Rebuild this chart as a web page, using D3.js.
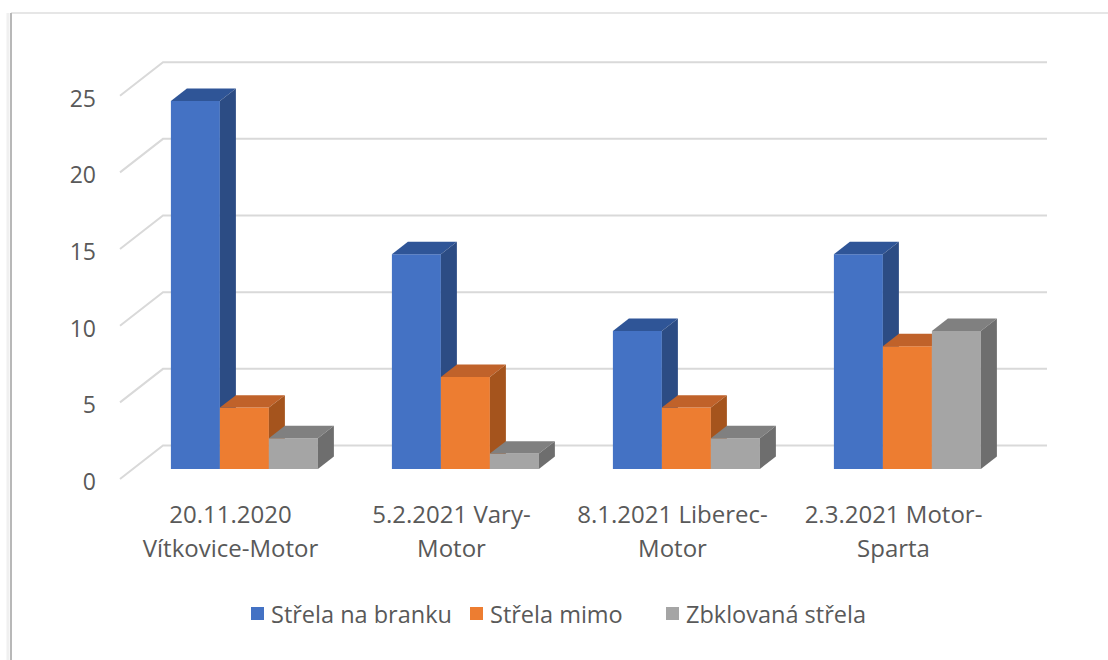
<!DOCTYPE html>
<html>
<head>
<meta charset="utf-8">
<script src="https://cdn.jsdelivr.net/npm/d3@7"></script>
<style>
  body { margin: 0; background: #fff; }
  svg { display: block; font-family: "Open Sans", Lato, sans-serif; }
</style>
</head>
<body>
<div class="chart"></div>
<script>
// chart data
const categories = [
  ["20.11.2020", "Vítkovice-Motor"],
  ["5.2.2021 Vary-", "Motor"],
  ["8.1.2021 Liberec-", "Motor"],
  ["2.3.2021 Motor-", "Sparta"]
];
const seriesNames = ["Střela na branku", "Střela mimo", "Zbklovaná střela"];
const strelaNaBranku = [24, 14, 9, 14];
const strelaMimo = [4, 6, 4, 8];
const zblokovanaStrela = [2, 1, 2, 9];
const yTicks = [0, 5, 10, 15, 20, 25];

const seriesValues = [strelaNaBranku, strelaMimo, zblokovanaStrela];
const colors = ["#4472c4", "#ed7d31", "#a5a5a5"];
const topColors = ["#2f5597", "#c0622a", "#808080"];
const sideColors = ["#2c4c84", "#a5541d", "#6e6e6e"];

const W = 1108, H = 660;
const DX = 43, DY = 33.5;        // depth of the floor
const zFront = 0.3, zBack = 0.672;

const svg = d3.select(".chart").append("svg")
  .attr("width", W)
  .attr("height", H);

// frame
svg.append("line").attr("x1", 11).attr("x2", W).attr("y1", 13).attr("y2", 13)
  .attr("stroke", "#e6e6e6").attr("stroke-width", 2);
svg.append("line").attr("x1", 8).attr("x2", 8).attr("y1", 13).attr("y2", H)
  .attr("stroke", "#f0f0f0").attr("stroke-width", 3);
svg.append("line").attr("x1", 11).attr("x2", 11).attr("y1", 13).attr("y2", H)
  .attr("stroke", "#b8b8b8").attr("stroke-width", 2);

const xScale = d3.scaleBand()
  .domain(d3.range(categories.length))
  .range([120, 1004]);

const xSub = d3.scaleBand()
  .domain(d3.range(seriesNames.length))
  .range([38, xScale.bandwidth() - 36]);

const yScale = d3.scaleLinear()
  .domain([0, 25])
  .range([479, 95.7]);

// project (x on front plane, value, depth 0..1) to screen
function P(x, v, z) {
  return [x + z * DX, yScale(v) - z * DY];
}
const poly = pts => "M" + pts.map(p => p.join(",")).join("L") + "Z";

// gridlines: diagonal on the side wall + line along the back wall
const grid = svg.append("g").attr("class", "grid");
yTicks.forEach(v => {
  const a = P(120, v, 0), b = P(120, v, 1), c = P(1004, v, 1);
  grid.append("path")
    .attr("d", `M${a}L${b}L${c}`)
    .attr("fill", "none")
    .attr("stroke", "#d9d9d9")
    .attr("stroke-width", 2);
});

// y labels
svg.append("g").selectAll("text")
  .data(yTicks)
  .join("text")
  .attr("x", 96)
  .attr("y", d => yScale(d) + 2)
  .attr("text-anchor", "end")
  .attr("dominant-baseline", "central")
  .attr("font-size", 23)
  .attr("fill", "#595959")
  .text(d => d);

// bars
const bars = svg.append("g").attr("class", "bars");
categories.forEach((c, i) => {
  seriesValues.forEach((vals, s) => {
    const v = vals[i];
    const x0 = xScale(i) + xSub(s), x1 = x0 + xSub.bandwidth();
    const g = bars.append("g");
    // front
    g.append("path")
      .attr("d", poly([P(x0, 0, zFront), P(x1, 0, zFront), P(x1, v, zFront), P(x0, v, zFront)]))
      .attr("fill", colors[s]);
    // top
    g.append("path")
      .attr("d", poly([P(x0, v, zFront), P(x1, v, zFront), P(x1, v, zBack), P(x0, v, zBack)]))
      .attr("fill", topColors[s]);
    // right side
    g.append("path")
      .attr("d", poly([P(x1, 0, zFront), P(x1, 0, zBack), P(x1, v, zBack), P(x1, v, zFront)]))
      .attr("fill", sideColors[s]);
  });
});

// category labels
const xl = svg.append("g").selectAll("text")
  .data(categories)
  .join("text")
  .attr("text-anchor", "middle")
  .attr("font-size", 24)
  .attr("fill", "#595959");
xl.selectAll("tspan")
  .data((d, i) => d.map(t => ({ t, i })))
  .join("tspan")
  .attr("x", d => xScale(d.i) + xScale.bandwidth() / 2)
  .attr("y", (d, j) => 523 + j * 34)
  .text(d => d.t);

// legend
const legendX = [251, 470, 666];
const lg = svg.append("g").selectAll("g")
  .data(seriesNames)
  .join("g")
  .attr("transform", (d, i) => `translate(${legendX[i]},614)`);
lg.append("rect")
  .attr("x", 0).attr("y", -7)
  .attr("width", 13).attr("height", 13)
  .attr("fill", (d, i) => colors[i]);
lg.append("text")
  .attr("x", 20)
  .attr("dominant-baseline", "central")
  .attr("font-size", 23.5)
  .attr("fill", "#595959")
  .text(d => d);
</script>
</body>
</html>
